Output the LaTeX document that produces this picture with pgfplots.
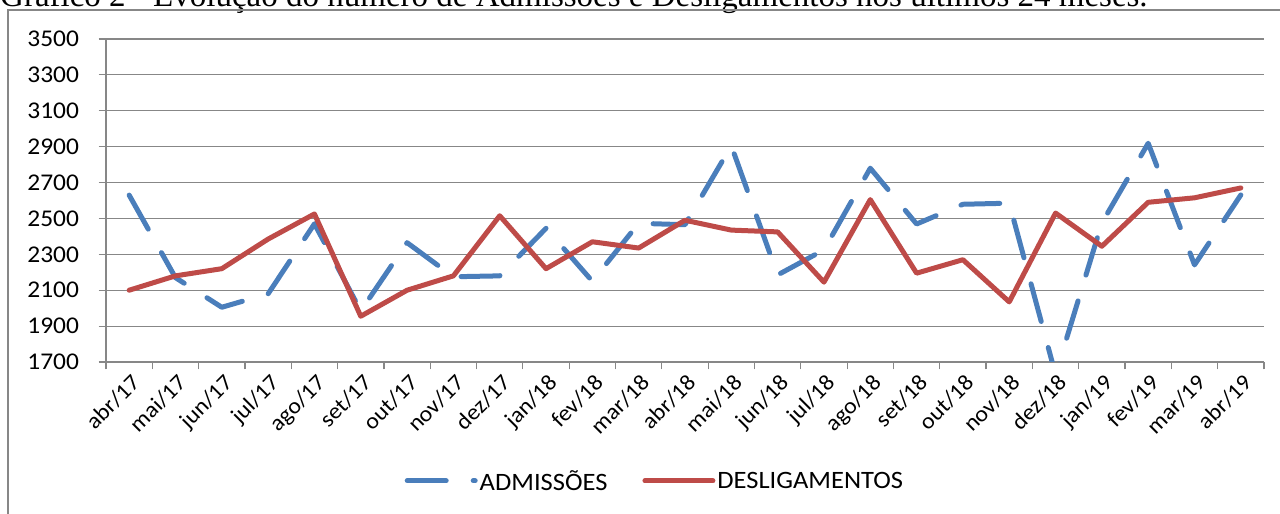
\documentclass[border=0pt]{standalone}
\usepackage{fontspec}
\setmainfont{Carlito}[FakeStretch=1.06]
\newfontfamily\titlefont{Liberation Serif}
\usepackage{pgfplots}
\pgfplotsset{compat=1.18}
\definecolor{admblue}{HTML}{4A7EBB}
\definecolor{desred}{HTML}{BE4B48}
\definecolor{gridgray}{HTML}{878787}

\pgfplotstableread{
x adm des
0  2630 2100
1  2170 2180
2  2005 2220
3  2080 2385
4  2470 2525
5  1985 1955
6  2365 2100
7  2175 2180
8  2180 2515
9  2445 2220
10 2150 2370
11 2473 2335
12 2465 2490
13 2905 2435
14 2185 2425
15 2325 2145
16 2780 2605
17 2469 2195
18 2579 2270
19 2585 2035
20 1630 2530
21 2475 2345
22 2919 2590
23 2241 2615
24 2631 2670
}\datatable

\begin{document}
\begin{tikzpicture}
\path[use as bounding box] (0pt,0pt) rectangle (1280pt,514pt);
\clip (0pt,0pt) rectangle (1280pt,514pt);
\node[anchor=base west, inner sep=0pt, font=\titlefont\fontsize{33}{36}\selectfont] at (0pt,507pt) {Gráfico 2 - Evolução do número de Admissões e Desligamentos nos últimos 24 meses.};
\draw[gridgray, line width=1.2pt] (8pt,-20pt) -- (8pt,504pt) -- (1300pt,504pt);
\begin{axis}[
  at={(106pt,152pt)}, anchor=south west,
  scale only axis, width=1158pt, height=323pt,
  xmin=-0.5, xmax=24.5, ymin=1700, ymax=3500,
  axis lines=left, axis line style={-, gridgray, line width=1.2pt},
  ytick={1700,1900,...,3500},
  scaled y ticks=false,
  /pgf/number format/1000 sep={},
  /pgf/number format/assume math mode=true,
  ymajorgrids, grid style={gridgray, line width=1.2pt},
  tick align=outside, major tick length=7.5pt,
  tick style={gridgray, line width=1.2pt},
  yticklabel style={font=\fontsize{24}{28}\selectfont, xshift=-16pt},
  xtick={-0.5,0.5,...,24.5}, xticklabels={},
  extra x ticks={0,1,...,24},
  extra x tick labels={abr/17,mai/17,jun/17,jul/17,ago/17,set/17,out/17,nov/17,dez/17,jan/18,fev/18,mar/18,abr/18,mai/18,jun/18,jul/18,ago/18,set/18,out/18,nov/18,dez/18,jan/19,fev/19,mar/19,abr/19},
  extra x tick style={major tick length=0pt, tick label style={font=\fontsize{22.5}{26}\selectfont, xshift=1pt, yshift=-6pt, rotate=45, anchor=north east}},
  legend style={at={(0.474,-0.368)}, anchor=center, draw=none, fill=none,
    legend columns=2, font=\fontsize{25}{30}\selectfont,
    /tikz/every even column/.append style={column sep=33pt}},
  legend cell align=left,
  legend image code/.code={\draw[#1] (0pt,0pt) -- (68pt,0pt);},
]
\addplot[admblue, line width=5pt, dash pattern=on 39pt off 27pt, line cap=round, line join=round] table[x=x, y=adm] {\datatable};
\addlegendentry{ADMISSÕES}
\addplot[desred, line width=5pt, line cap=round, line join=round] table[x=x, y=des] {\datatable};
\addlegendentry{DESLIGAMENTOS}
\end{axis}
\end{tikzpicture}
\end{document}
